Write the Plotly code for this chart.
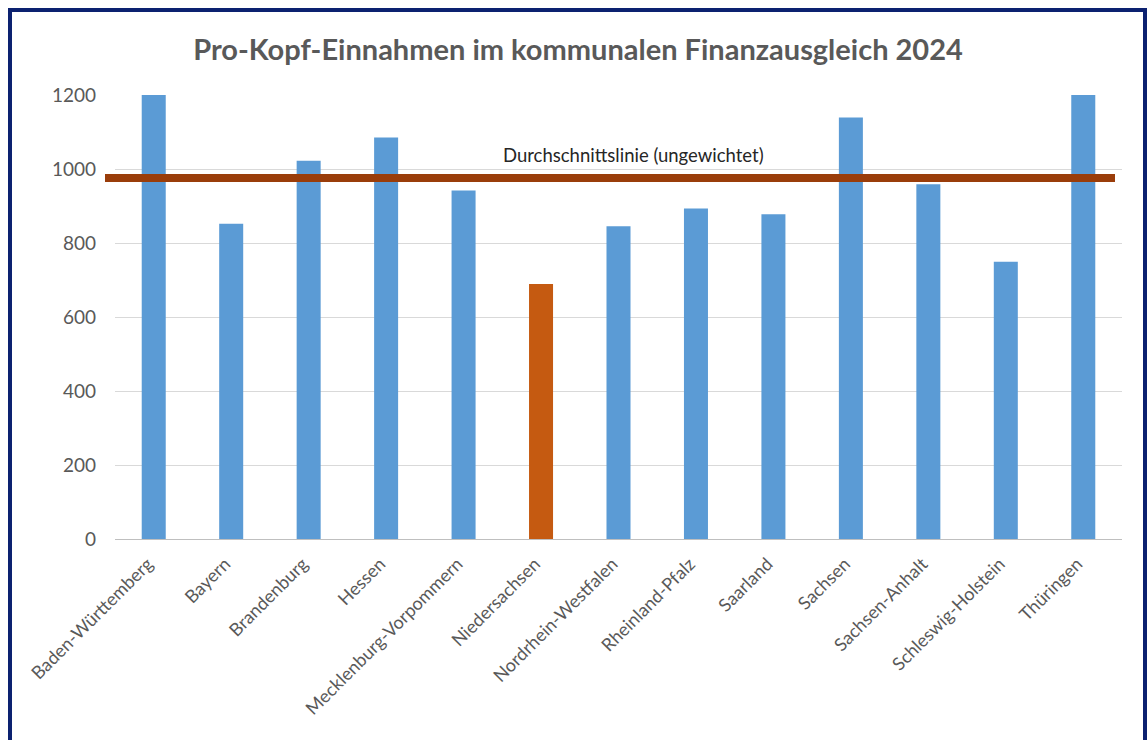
import plotly.graph_objects as go

# ---- data ----
laender = ["Baden-Württemberg", "Bayern", "Brandenburg", "Hessen",
           "Mecklenburg-Vorpommern", "Niedersachsen", "Nordrhein-Westfalen",
           "Rheinland-Pfalz", "Saarland", "Sachsen", "Sachsen-Anhalt",
           "Schleswig-Holstein", "Thüringen"]
einnahmen = [1200, 852, 1022, 1085, 942, 689, 845, 893, 878, 1139, 959, 749, 1200]
highlight = "Niedersachsen"
durchschnitt = 976
durchschnitt_label = "Durchschnittslinie (ungewichtet)"
title_text = "Pro-Kopf-Einnahmen im kommunalen Finanzausgleich 2024"
y_ticks = [0, 200, 400, 600, 800, 1000, 1200]

BLUE = "#5B9BD5"
ORANGE = "#C55A11"
AVG = "#9A3D0A"
BORDER = "#0C2170"
FONT = "Lato, 'Open Sans', sans-serif"

colors = [ORANGE if l == highlight else BLUE for l in laender]

fig = go.Figure()
fig.add_trace(go.Bar(x=laender, y=einnahmen, marker=dict(color=colors, line=dict(width=0)),
                     showlegend=False, hoverinfo="x+y"))

# plot area geometry (pixels) for paper-coordinate conversions
W, H = 1148, 740
ml, mr, mt, mb = 115, 26, 95, 201
pw, ph = W - ml - mr, H - mt - mb

def px_x(x):
    return (x - ml) / pw

def px_y(y):
    return (H - mb - y) / ph

# average line
fig.add_shape(type="line", xref="paper", yref="y", x0=px_x(105), x1=px_x(1115),
              y0=durchschnitt, y1=durchschnitt, line=dict(color=AVG, width=8), layer="above")
fig.add_annotation(xref="paper", yref="paper", x=px_x(633), y=px_y(155),
                   text=durchschnitt_label, showarrow=False,
                   font=dict(family=FONT, size=18.5, color="#262626"),
                   xanchor="center", yanchor="middle")

# outer frame
fig.add_shape(type="rect", xref="paper", yref="paper",
              x0=px_x(10), x1=px_x(1145), y0=px_y(760), y1=px_y(10),
              line=dict(color=BORDER, width=4), fillcolor="rgba(0,0,0,0)", layer="above")

fig.update_layout(
    width=W, height=H,
    margin=dict(l=ml, r=mr, t=mt, b=mb, autoexpand=False),
    paper_bgcolor="white", plot_bgcolor="white",
    title=dict(text="<b>" + title_text + "</b>", x=px_x(578), xref="paper", xanchor="center",
               y=1 - 50 / H, yanchor="middle",
               font=dict(family=FONT, size=29, color="#595959")),
    bargap=0.69,
    font=dict(family=FONT, color="#595959"),
)
fig.update_xaxes(tickangle=-45, tickfont=dict(family=FONT, size=18, color="#595959"),
                 showline=False, showgrid=False, ticks="", ticklabelstandoff=10,
                 ticklabelshift=-6)
fig.update_yaxes(range=[0, 1200], tickvals=y_ticks, showgrid=True, gridcolor="#D9D9D9",
                 gridwidth=1, zeroline=True, zerolinecolor="#BFBFBF", zerolinewidth=1,
                 tickfont=dict(family=FONT, size=19, color="#595959"), ticks="",
                 ticklabelstandoff=18, showline=False)

fig.write_html("out.html", config={"displayModeBar": False},
               post_script="document.body.style.margin='0';document.body.style.overflow='hidden';")
